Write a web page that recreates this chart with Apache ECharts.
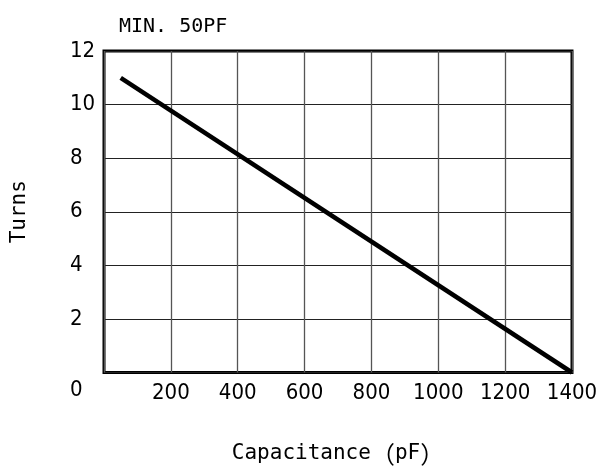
<!DOCTYPE html>
<html><head><meta charset="utf-8">
<script src="https://cdn.jsdelivr.net/npm/echarts@6/dist/echarts.min.js"></script>
<style>html,body{margin:0;padding:0;background:#fff}#c{width:605px;height:466px}</style>
</head><body><div id="c"></div>
<script>
const capacitance = [50, 1400];
const turns = [11, 0];
const xTicks = [0, 200, 400, 600, 800, 1000, 1200, 1400];
const yTicks = [0, 2, 4, 6, 8, 10, 12];
const titleText = 'MIN. 50PF';
const xNameMain = 'Capacitance';
const xNameUnit = 'pF';
const yName = 'Turns';

const mono = '"DejaVu Sans Mono","Liberation Mono","Noto Sans CJK JP",monospace';
const cjk = '"Noto Sans CJK JP",sans-serif';
const sans = '"DejaVu Sans Condensed","Liberation Sans",Arial,sans-serif';
const chart = echarts.init(document.getElementById('c'));
chart.setOption({
  animation: false,
  title: { text: titleText, left: 114, top: 12, textStyle: { fontFamily: mono, fontSize: 20, fontWeight: 'normal', color: '#000' } },
  grid: { left: 104, right: 33, top: 51, bottom: 93.5, containLabel: false, outerBoundsMode: 'none',
    show: true, borderColor: '#000', borderWidth: 3, backgroundColor: 'transparent' },
  xAxis: {
    type: 'value', min: xTicks[0], max: xTicks[xTicks.length - 1], interval: 200,
    name: xNameMain + '{p|（}' + xNameUnit + '{p|）}', nameLocation: 'middle', nameGap: 69,
    nameTextStyle: { fontFamily: mono, fontSize: 21, color: '#000',
      rich: { p: { fontFamily: cjk, fontSize: 24, color: '#000' } } },
    axisLine: { show: false }, axisTick: { show: false },
    axisLabel: { margin: 10, fontFamily: sans, fontSize: 22, color: '#000', formatter: v => v === 0 ? '' : String(v) },
    splitLine: { show: true, lineStyle: { color: '#555', width: 1.3 } }
  },
  yAxis: {
    type: 'value', min: yTicks[0], max: yTicks[yTicks.length - 1], interval: 2,
    name: yName, nameLocation: 'middle', nameGap: 74, nameRotate: 90,
    nameTextStyle: { fontFamily: mono, fontSize: 21, color: '#000' },
    axisLine: { show: false }, axisTick: { show: false },
    axisLabel: { margin: 34, align: 'left', fontFamily: sans, fontSize: 22, color: '#000',
      formatter: v => v === 0 ? '{z|0}' : String(v),
      rich: { z: { fontFamily: sans, fontSize: 22, color: '#000', padding: [36, 0, 0, 0] } } },
    splitLine: { show: true, lineStyle: { color: '#222', width: 1.2 } }
  },
  series: [{
    type: 'line', data: capacitance.map((c, i) => [c, turns[i]]),
    showSymbol: false, lineStyle: { color: '#000', width: 4.5 }, clip: false
  }]
});
</script></body></html>
